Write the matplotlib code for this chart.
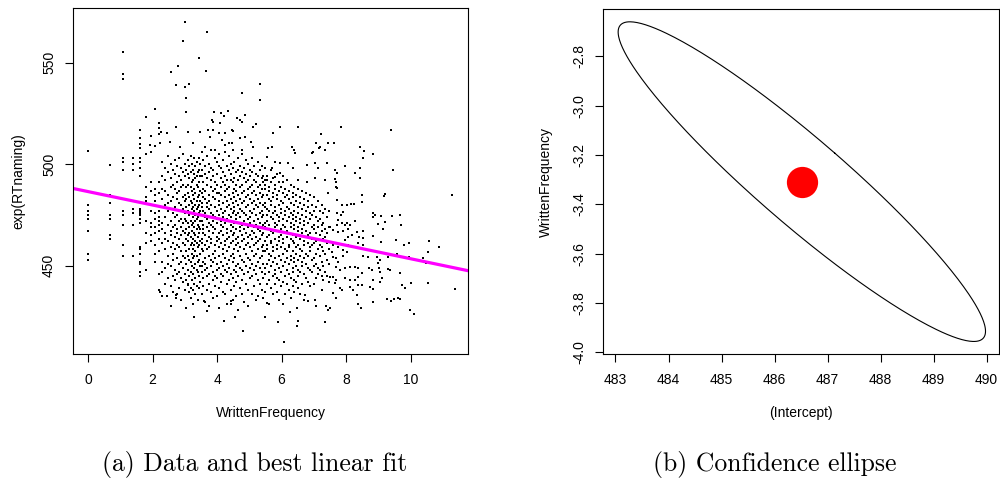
import numpy as np
import matplotlib
matplotlib.use("Agg")
import matplotlib.pyplot as plt

plt.rcParams['font.family'] = ['Liberation Sans', 'DejaVu Sans']

# ---- (a) WrittenFrequency vs exp(RTnaming) ----
# column x positions (log frequency) and the exp(RTnaming) values stacked in each
col_wf = [0.00, 0.69, 1.10, 1.39, 1.61, 1.79, 1.95, 2.08, 2.20, 2.30, 2.40, 2.48,
          2.56, 2.64, 2.71, 2.77, 2.83, 2.89, 2.94, 3.00, 3.04, 3.09, 3.14, 3.18,
          3.22, 3.26, 3.30, 3.33, 3.37, 3.40, 3.43, 3.47,
          3.52, 3.58, 3.64, 3.70, 3.76, 3.82, 3.88, 3.94, 4.00, 4.06, 4.12, 4.18,
          4.24, 4.30, 4.36, 4.42, 4.48, 4.54, 4.60, 4.66, 4.72, 4.78, 4.84, 4.90,
          4.96, 5.02, 5.08, 5.14, 5.20, 5.26, 5.32, 5.38, 5.44, 5.50, 5.56, 5.62,
          5.68, 5.74, 5.80, 5.86, 5.92, 5.98, 6.04, 6.10, 6.16, 6.22, 6.28, 6.34,
          6.40, 6.46, 6.52, 6.58, 6.64, 6.70, 6.76, 6.82, 6.88, 6.94, 7.00, 7.06,
          7.12, 7.18, 7.24, 7.30, 7.36, 7.42, 7.48]
col_rt = [
    [480, 477, 475, 473, 467, 456, 453],
    [485, 481, 475, 473, 465, 463],
    [503, 501, 497, 477, 475, 470, 460, 455],
    [503, 500, 497, 478, 476, 470, 455],
    [517, 513, 510, 508, 503, 501, 498, 494, 478, 477, 476, 475, 473, 471, 459, 458, 456, 452, 451, 447, 445],
    [505, 489, 484, 482, 472, 466, 461, 448],
    [514, 506, 491, 487, 477, 471, 469, 465, 462],
    [509, 488, 485, 482, 476, 473, 469, 466, 460, 456, 452],
    [518, 515, 491, 486, 477, 474, 472, 470, 467, 463, 457, 446, 438],
    [501, 494, 488, 483, 479, 471, 468, 461, 452, 447],
    [498, 492, 487, 480, 474, 466, 463, 458, 449, 441],
    [504, 496, 485, 481, 477, 470, 462, 455, 451, 444],
    [500, 493, 489, 482, 472, 467, 465, 459, 450, 440],
    [497, 490, 484, 478, 476, 469, 461, 456, 453, 445, 437],
    [502, 495, 488, 479, 474, 470, 464, 458, 448, 443],
    [499, 491, 486, 483, 475, 468, 466, 460, 454, 446, 436],
    [503, 494, 487, 481, 477, 472, 463, 459, 451, 447, 439],
    [498, 492, 489, 480, 473, 469, 465, 457, 452, 444, 433],
    [505, 496, 490, 484, 478, 471, 467, 461, 455, 449, 442],
    [500, 494, 485, 482, 476, 473, 466, 460, 454, 446, 438],
    [497, 489, 483, 479, 472, 468, 463, 457, 451, 443, 429],
    [502, 495, 490, 486, 477, 471, 465, 462, 455, 448, 441],
    [499, 493, 484, 480, 475, 469, 466, 458, 453, 445, 437],
    [504, 496, 489, 482, 476, 472, 464, 460, 452, 447, 434],
    [500, 491, 487, 481, 478, 470, 467, 461, 456, 450, 443],
    [497, 492, 485, 479, 474, 471, 463, 458, 454, 446, 438, 431],
    [503, 495, 488, 483, 477, 469, 466, 460, 455, 449, 441],
    [499, 493, 486, 480, 475, 472, 465, 462, 457, 451, 444, 436],
    [501, 494, 490, 482, 478, 473, 468, 461, 455, 448, 440],
    [496, 489, 484, 479, 474, 470, 464, 459, 452, 447, 433],
    [503, 497, 491, 485, 480, 476, 469, 466, 460, 453, 445, 439],
    [500, 494, 487, 482, 477, 472, 468, 462, 456, 450, 442],
    [506, 497, 494, 486, 481, 479, 472, 463, 461, 458, 450, 447, 436],
    [502, 491, 488, 484, 477, 470, 468, 466, 457, 452, 444, 440],
    [499, 495, 487, 483, 476, 474, 465, 460, 454, 451, 448, 432],
    [504, 493, 490, 481, 479, 473, 469, 462, 458, 449, 445, 438],
    [500, 496, 485, 482, 478, 471, 467, 464, 459, 455, 446, 441, 430],
    [507, 498, 492, 489, 480, 476, 470, 463, 461, 453, 450, 437],
    [497, 494, 487, 484, 475, 472, 469, 466, 456, 452, 447, 443, 434],
    [503, 491, 488, 483, 479, 474, 468, 460, 457, 454, 445, 440],
    [501, 495, 490, 486, 477, 473, 471, 464, 462, 451, 448, 444, 435],
    [505, 499, 486, 482, 480, 475, 466, 463, 459, 455, 449, 439, 429],
    [498, 493, 489, 485, 478, 472, 470, 467, 461, 452, 446, 442],
    [502, 496, 491, 481, 476, 474, 469, 465, 458, 456, 450, 445, 437],
    [506, 494, 490, 487, 484, 477, 471, 462, 460, 454, 448, 436],
    [499, 492, 488, 482, 479, 473, 468, 466, 463, 457, 451, 447, 441, 431],
    [504, 497, 489, 485, 480, 475, 472, 464, 459, 453, 449, 443],
    [500, 495, 492, 483, 478, 474, 470, 467, 461, 455, 446, 438],
    [507, 498, 491, 486, 481, 476, 469, 465, 462, 456, 452, 444, 433],
    [501, 493, 488, 484, 479, 477, 471, 466, 458, 454, 448, 440],
    [496, 490, 487, 482, 475, 473, 468, 463, 460, 450, 447, 442, 435],
    [503, 497, 492, 485, 480, 476, 471, 464, 461, 457, 451, 445, 428],
    [499, 494, 489, 483, 478, 474, 469, 467, 459, 455, 449, 439],
    [505, 496, 490, 486, 481, 477, 470, 465, 462, 453, 448, 443, 436],
    [498, 493, 487, 482, 476, 472, 468, 463, 458, 452, 446, 432],
    [502, 495, 491, 484, 479, 475, 470, 466, 460, 456, 450, 441],
    [500, 492, 488, 485, 480, 473, 469, 464, 461, 454, 447, 438, 430],
    [497, 494, 489, 483, 477, 474, 471, 465, 459, 453, 449, 444],
    [503, 496, 490, 486, 481, 476, 467, 463, 457, 451, 445, 436],
    [499, 492, 487, 482, 478, 472, 469, 466, 460, 455, 448, 440],
    [495, 491, 485, 480, 475, 470, 464, 461, 456, 450, 446, 433],
    [501, 494, 489, 483, 479, 473, 468, 462, 458, 452, 443, 435],
    [497, 490, 486, 481, 476, 471, 467, 463, 454, 449, 441],
    [499, 493, 488, 484, 477, 474, 469, 465, 459, 455, 447, 438],
    [494, 491, 485, 480, 475, 470, 466, 460, 457, 451, 444, 434],
    [498, 490, 488, 481, 479, 471, 469, 462, 457, 449, 446, 437],
    [494, 492, 485, 478, 475, 472, 464, 460, 458, 451, 441],
    [489, 487, 483, 477, 470, 468, 465, 456, 453, 447, 443, 431],
    [497, 491, 482, 480, 474, 467, 462, 461, 455, 450, 439],
    [493, 486, 484, 476, 473, 466, 459, 457, 452, 445, 436],
    [490, 488, 479, 477, 471, 469, 463, 454, 448, 446, 441],
    [495, 485, 483, 475, 470, 467, 460, 458, 451, 444, 437],
    [491, 487, 480, 474, 472, 464, 462, 455, 449, 443, 433],
    [489, 482, 478, 476, 468, 465, 459, 453, 447, 440],
    [494, 486, 481, 473, 470, 463, 461, 456, 450, 442],
    [488, 484, 477, 475, 469, 466, 458, 452, 445, 436],
    [492, 485, 479, 472, 467, 464, 457, 454, 448, 441],
    [487, 483, 478, 474, 466, 460, 459, 451, 446, 438],
    [490, 481, 476, 471, 469, 463, 455, 453, 444, 434],
    [486, 484, 475, 473, 465, 462, 457, 449, 447, 440],
    [489, 480, 477, 470, 468, 461, 454, 452, 443, 437],
    [485, 482, 474, 472, 464, 459, 456, 450, 442],
    [488, 479, 476, 469, 467, 460, 453, 448, 445, 439],
    [484, 481, 473, 471, 463, 458, 455, 447, 436],
    [487, 478, 475, 468, 466, 457, 452, 450, 441],
    [483, 480, 472, 470, 462, 460, 454, 446, 433],
    [486, 477, 474, 467, 464, 456, 451, 444],
    [482, 479, 471, 465, 461, 455, 449, 442],
    [485, 476, 473, 466, 459, 457, 448, 440],
    [480, 475, 469, 463, 460, 453, 447],
    [484, 477, 470, 468, 461, 454, 450, 441],
    [479, 474, 466, 462, 456, 451, 444],
    [482, 472, 469, 463, 458, 449, 446],
    [477, 473, 465, 460, 455, 448],
    [480, 470, 467, 459, 452, 445, 438],
    [476, 471, 463, 457, 450, 443],
    [478, 468, 464, 456, 447],
    [474, 466, 461, 453, 445],
    [477, 469, 458, 451, 442],
]

# scattered words read one by one (upper rim, low rim, high-frequency tail)
pt_wf = [3.00, 2.94, 1.10, 1.10, 1.10, 3.45, 2.78, 2.56, 2.72, 3.00, 3.12, 3.03,
         3.03, 2.08, 1.80, 2.20, 0.00, 0.69, 3.70, 3.66, 5.33, 4.76, 5.33, 3.90,
         4.11, 4.33, 4.21, 3.84, 3.88, 4.09, 4.61, 4.71, 4.78, 4.87, 5.20, 5.12,
         5.95, 6.50, 5.72, 4.50, 3.73, 4.07, 4.14, 3.78, 4.71, 5.05, 4.38, 5.69,
         5.59, 6.33, 6.39, 7.07, 6.98, 7.17, 7.44, 2.26, 2.44, 2.72, 3.11, 3.47,
         3.88, 4.25, 4.45, 4.87, 1.92, 2.23, 2.54, 2.85, 3.26, 3.63, 3.94, 4.25,
         4.45, 4.76, 5.12, 9.39, 7.22, 7.19, 7.34, 6.93, 6.43, 7.62, 8.43, 8.56,
         8.53, 8.84, 9.47, 5.54, 5.79, 5.95, 6.21, 5.69, 5.95, 6.36, 6.78, 7.04,
         7.14, 7.40, 7.65, 7.96, 8.27, 8.43, 5.48, 5.79, 6.05, 6.52, 6.78, 7.04,
         7.34, 7.69, 7.71, 7.45, 7.84, 7.73, 8.43, 7.65,
         2.23, 2.28, 2.44, 2.57, 2.72, 2.72, 3.29, 3.68, 4.21, 4.43, 4.43, 4.56,
         4.81, 5.48, 3.59, 3.19, 3.11, 5.54, 6.05, 6.26, 6.47, 5.90, 6.07, 6.47,
         6.50, 6.83, 6.72, 7.03, 7.08, 7.37, 7.35, 7.45,
         7.69, 8.49, 9.21, 9.18, 11.28, 7.71, 7.86, 8.02, 8.15, 8.25, 8.49, 8.84,
         8.89, 8.82, 9.08, 9.42, 9.66, 9.20, 9.69, 9.00, 9.13, 7.71, 7.92, 7.84,
         7.76, 7.72, 7.86, 7.96, 8.12, 8.02, 8.27, 7.50, 7.60, 7.76, 7.91, 8.07,
         8.33, 8.51, 8.41, 8.51, 8.17, 8.07, 7.96, 8.84, 9.07, 9.54, 9.79, 9.94,
         10.56, 10.87, 7.50, 7.60, 7.76, 7.91, 7.55, 8.07, 8.22, 8.02, 7.91, 8.38,
         8.51, 8.66, 8.69, 8.53, 8.95, 9.10, 9.05, 9.00, 9.31, 9.57, 9.79, 9.95,
         10.37, 10.53, 10.47, 7.60, 7.70, 7.76, 7.68, 7.81, 7.96, 8.12, 8.27, 8.38,
         8.48, 8.72, 8.79, 9.03, 9.05, 9.31, 9.36, 9.67, 7.50, 7.60, 7.70, 7.96,
         8.12, 8.27, 8.38, 8.84, 9.05, 9.10, 9.72, 9.82, 10.00, 10.53, 11.37, 7.65,
         7.81, 7.86, 8.12, 8.22, 8.38, 8.48, 8.74, 8.84, 7.58, 7.68, 7.50, 8.33,
         8.36, 8.46, 8.82, 9.26, 9.39, 9.48, 9.62, 9.67, 9.98, 10.10]
pt_rt = [570.2, 560.9, 555.5, 544.6, 541.9, 552.2, 548.4, 545.6, 539.2, 537.9, 539.6, 532.8,
         525.8, 527.2, 523.4, 520.5, 506.7, 499.8, 565.3, 546.1, 539.6, 535.1, 531.8, 525.9,
         525.3, 526.3, 523.8, 521.8, 521.0, 520.5, 523.0, 521.8, 521.0, 524.4, 519.9, 518.5,
         518.5, 518.5, 515.3, 516.4, 516.9, 515.3, 512.0, 513.6, 512.8, 511.1, 510.3, 508.7,
         507.9, 508.7, 507.0, 510.6, 506.2, 507.9, 510.6, 516.1, 515.3, 518.5, 516.1, 516.1,
         516.9, 515.3, 516.9, 513.6, 509.5, 510.3, 511.1, 508.7, 510.3, 508.7, 507.0, 509.5,
         510.3, 507.0, 508.7, 516.9, 514.9, 508.7, 507.0, 505.7, 505.4, 510.3, 508.7, 506.7,
         503.0, 504.9, 497.2, 503.7, 501.3, 500.5, 500.5, 498.0, 495.6, 498.0, 499.6, 500.5,
         498.0, 500.5, 497.2, 499.2, 495.6, 498.0, 492.3, 493.9, 491.4, 492.3, 491.4, 493.1,
         492.3, 491.4, 488.2, 485.7, 518.5, 495.9, 493.4, 492.8,
         437.2, 435.3, 435.3, 430.3, 435.6, 434.3, 424.9, 427.7, 422.8, 432.7, 431.2, 424.9,
         417.9, 424.9, 432.7, 438.9, 440.5, 431.5, 431.0, 427.4, 429.1, 422.5, 412.6, 420.5,
         422.8, 432.7, 435.6, 433.2, 429.9, 429.9, 422.5, 428.2,
         488.7, 485.0, 485.2, 484.4, 485.0, 482.4, 479.9, 480.1, 480.4, 480.4, 481.4, 475.9,
         475.0, 474.2, 474.7, 474.7, 475.2, 471.7, 470.1, 470.4, 468.0, 475.9, 476.4, 475.2,
         472.6, 470.1, 470.8, 470.1, 470.1, 471.2, 472.1, 469.3, 467.6, 466.8, 467.3, 468.0,
         466.8, 467.1, 464.3, 463.8, 465.2, 464.3, 462.7, 464.7, 461.6, 462.7, 460.2, 461.1,
         462.2, 459.4, 461.9, 460.2, 459.4, 457.8, 456.9, 460.2, 459.4, 456.9, 454.8, 461.1,
         460.2, 457.8, 454.5, 454.8, 454.5, 456.2, 452.9, 451.2, 454.5, 455.8, 454.5, 454.5,
         453.7, 456.9, 451.2, 454.5, 453.7, 452.0, 449.6, 447.9, 448.8, 449.3, 449.6, 448.8,
         446.3, 448.8, 447.9, 448.8, 447.1, 448.3, 447.9, 446.6, 444.6, 444.3, 443.0, 443.8,
         443.0, 443.0, 444.6, 443.0, 442.2, 443.8, 440.5, 438.9, 441.4, 441.4, 438.6, 441.4,
         438.9, 438.1, 439.7, 438.1, 440.5, 440.5, 439.7, 438.4, 436.5, 434.0, 429.4, 435.6,
         431.2, 429.4, 432.3, 433.5, 432.8, 433.8, 434.1, 433.5, 428.2, 426.3]

# lm(exp(RTnaming) ~ WrittenFrequency) coefficients
fit_intercept = 486.515
fit_slope = -3.308

# ---- (b) confidence ellipse for the two coefficients ----
ell_center = (486.515, -3.308)
ell_halfwidth = (3.465, 0.648)   # half extent along (Intercept) and WrittenFrequency
ell_corr = -0.936

wf = []
rt = []
for x, ys in zip(col_wf, col_rt):
    wf += [x] * len(ys)
    rt += ys
wf += pt_wf[:len(pt_rt)]
rt += pt_rt[:len(pt_wf)]

fig = plt.figure(figsize=(10, 4.8), dpi=100)
ax1 = fig.add_axes([0.0733, 0.2625, 0.3947, 0.7202])
ax2 = fig.add_axes([0.6033, 0.2619, 0.3960, 0.7194])

ax1.plot(wf, rt, linestyle='none', marker='s', markersize=1.7,
         markeredgewidth=0, color='black')
xs = np.array([-1, 13])
ax1.plot(xs, fit_intercept + fit_slope * xs, color='#FF00FF', lw=2.3)
ax1.set_xlim(-0.456, 11.78)
ax1.set_ylim(406.5, 576.8)
ax1.set_xticks([0, 2, 4, 6, 8, 10])
ax1.set_yticks([450, 500, 550])
ax1.set_xlabel('WrittenFrequency', fontsize=10)
ax1.set_ylabel('exp(RTnaming)', fontsize=10)
ax1.xaxis.set_label_coords(0.5, -0.171)
ax1.yaxis.set_label_coords(-0.140, 0.5)

t = np.linspace(0, 2 * np.pi, 400)
d = np.arccos(ell_corr)
ex = ell_center[0] + ell_halfwidth[0] * np.cos(t + d / 2)
ey = ell_center[1] + ell_halfwidth[1] * np.cos(t - d / 2)
ax2.plot(ex, ey, color='black', lw=0.8)
ax2.plot([ell_center[0]], [ell_center[1]], marker='o', markersize=22.5,
         color='#FF0000', markeredgewidth=0)
ax2.set_xlim(482.77, 490.24)
ax2.set_ylim(-4.008, -2.608)
ax2.set_xticks(range(483, 491))
ax2.set_yticks([-4.0, -3.8, -3.6, -3.4, -3.2, -3.0, -2.8])
ax2.set_yticklabels(['%.1f' % v for v in [-4.0, -3.8, -3.6, -3.4, -3.2, -3.0, -2.8]])
ax2.set_xlabel('(Intercept)', fontsize=10)
ax2.set_ylabel('WrittenFrequency', fontsize=10)
ax2.xaxis.set_label_coords(0.5, -0.171)
ax2.yaxis.set_label_coords(-0.1447, 0.5)

for ax in (ax1, ax2):
    for s in ax.spines.values():
        s.set_linewidth(0.8)
    ax.tick_params(length=5.5, width=0.8, labelsize=10, direction='out')
    ax.tick_params(axis='x', pad=8)
    ax.tick_params(axis='y', pad=7)
    for lab in ax.get_yticklabels():
        lab.set_rotation(90)
        lab.set_va('center')
    ax.xaxis.label.set_va('center')
    ax.yaxis.label.set_va('center')

fig.text(0.255, 1 - 465 / 480, '(a) Data and best linear fit', family='cmr10',
         fontsize=18.5, ha='center', va='center')
fig.text(0.775, 1 - 465 / 480, '(b) Confidence ellipse', family='cmr10',
         fontsize=18.5, ha='center', va='center')

fig.savefig('out.png', dpi=100)
